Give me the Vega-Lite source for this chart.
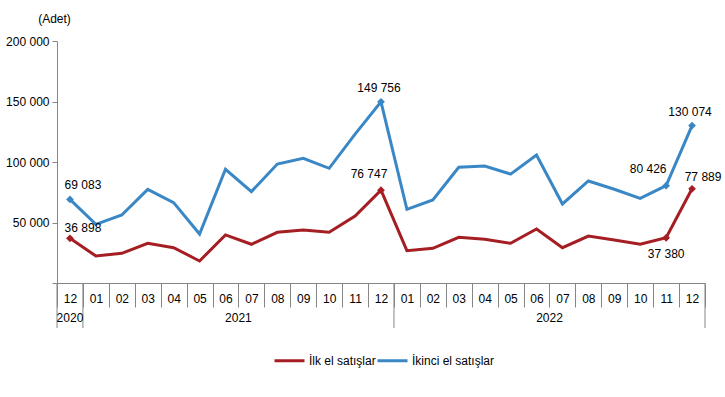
{
  "$schema": "https://vega.github.io/schema/vega-lite/v6.json",
  "autosize": {"type": "none"},
  "padding": {"left": 57, "top": 41, "right": 20, "bottom": 114},
  "width": 648,
  "height": 242,
  "config": {
    "font": "Liberation Sans",
    "view": {"stroke": null},
    "locale": {"number": {"decimal": ",", "thousands": " ", "grouping": [3], "currency": ["", ""]}},
    "text": {"font": "Liberation Sans", "fontSize": 12, "color": "#000000"}
  },
  "datasets": {
    "satis": [
      {"ay": "2020-12", "İlk el satışlar": 36898, "İkinci el satışlar": 69083},
      {"ay": "2021-01", "İlk el satışlar": 22300, "İkinci el satışlar": 48500},
      {"ay": "2021-02", "İlk el satışlar": 24500, "İkinci el satışlar": 56200},
      {"ay": "2021-03", "İlk el satışlar": 32800, "İkinci el satışlar": 77400},
      {"ay": "2021-04", "İlk el satışlar": 29200, "İkinci el satışlar": 66400},
      {"ay": "2021-05", "İlk el satışlar": 18200, "İkinci el satışlar": 40500},
      {"ay": "2021-06", "İlk el satışlar": 39700, "İkinci el satışlar": 94000},
      {"ay": "2021-07", "İlk el satışlar": 32000, "İkinci el satışlar": 75500},
      {"ay": "2021-08", "İlk el satışlar": 41900, "İkinci el satışlar": 98300},
      {"ay": "2021-09", "İlk el satışlar": 43800, "İkinci el satışlar": 103000},
      {"ay": "2021-10", "İlk el satışlar": 41900, "İkinci el satışlar": 94800},
      {"ay": "2021-11", "İlk el satışlar": 55400, "İkinci el satışlar": 123000},
      {"ay": "2021-12", "İlk el satışlar": 76747, "İkinci el satışlar": 149756},
      {"ay": "2022-01", "İlk el satışlar": 26700, "İkinci el satışlar": 60900},
      {"ay": "2022-02", "İlk el satışlar": 28700, "İkinci el satışlar": 68600},
      {"ay": "2022-03", "İlk el satışlar": 37800, "İkinci el satışlar": 95600},
      {"ay": "2022-04", "İlk el satışlar": 36100, "İkinci el satışlar": 96700},
      {"ay": "2022-05", "İlk el satışlar": 32800, "İkinci el satışlar": 90000},
      {"ay": "2022-06", "İlk el satışlar": 44600, "İkinci el satışlar": 105800},
      {"ay": "2022-07", "İlk el satışlar": 29200, "İkinci el satışlar": 65300},
      {"ay": "2022-08", "İlk el satışlar": 38800, "İkinci el satışlar": 84300},
      {"ay": "2022-09", "İlk el satışlar": 35500, "İkinci el satışlar": 77500},
      {"ay": "2022-10", "İlk el satışlar": 32000, "İkinci el satışlar": 70000},
      {"ay": "2022-11", "İlk el satışlar": 37380, "İkinci el satışlar": 80426},
      {"ay": "2022-12", "İlk el satışlar": 77889, "İkinci el satışlar": 130074}
    ],
    "yilSinir": [
      {"ay": "2020-12", "ust": 0, "alt": -37200},
      {"ay": "2021-01", "ust": 0, "alt": -37200},
      {"ay": "2022-01", "ust": 0, "alt": -37200}
    ],
    "sonSinir": [
      {"ay": "2022-12", "ust": 0, "alt": -37200}
    ],
    "yil2020": [
      {"ay": "2020-12", "yil": "2020", "konum": 0}
    ],
    "yillar": [
      {"ay": "2021-06", "yil": "2021", "konum": 0},
      {"ay": "2022-06", "yil": "2022", "konum": 0}
    ]
  },
  "layer": [
    {
      "data": {"name": "satis"},
      "transform": [{"fold": ["İlk el satışlar", "İkinci el satışlar"], "as": ["seri", "deger"]}],
      "encoding": {
        "x": {
          "field": "ay", "type": "ordinal", "bandPosition": 0.5,
          "scale": {"type": "band", "paddingInner": 0, "paddingOuter": 0},
          "axis": {
            "title": null, "grid": false, "labelAngle": 0,
            "tickBand": "extent", "tickSize": 24, "tickColor": "#868686", "domainColor": "#868686",
            "labelPadding": -9, "labelBaseline": "middle", "labelFontSize": 12, "labelColor": "#000000",
            "labelExpr": "substring(datum.label, 5, 7)"
          }
        },
        "y": {
          "field": "deger", "type": "quantitative",
          "scale": {"domain": [0, 200000], "nice": false},
          "axis": {
            "title": "(Adet)", "titleAngle": 0, "titleX": -3, "titleY": -23, "titleAlign": "center",
            "titleBaseline": "middle", "titleFontWeight": "normal", "titleFontSize": 12, "titleColor": "#000000",
            "values": [0, 50000, 100000, 150000, 200000], "grid": false,
            "tickSize": 5, "tickColor": "#868686", "domainColor": "#868686",
            "labelPadding": 3, "labelFontSize": 12, "labelColor": "#000000",
            "labelExpr": "datum.value == 0 ? '' : datum.label"
          }
        }
      },
      "layer": [
        {
          "mark": {"type": "line", "strokeWidth": 3},
          "encoding": {
            "color": {
              "field": "seri", "type": "nominal",
              "scale": {"domain": ["İlk el satışlar", "İkinci el satışlar"], "range": ["#A51E23", "#3A87C5"]},
              "legend": {
                "title": null, "orient": "none", "direction": "horizontal", "legendX": 216, "legendY": 303,
                "symbolType": "stroke", "symbolSize": 900, "symbolStrokeWidth": 3,
                "labelFontSize": 12, "labelColor": "#000000", "labelOffset": 3, "columnPadding": -5
              }
            }
          }
        },
        {
          "transform": [{"filter": "datum.ay == '2020-12' || datum.ay == '2021-12' || datum.ay == '2022-11' || datum.ay == '2022-12'"}],
          "mark": {"type": "point", "shape": "diamond", "filled": true, "size": 60, "opacity": 1},
          "encoding": {"color": {"field": "seri", "type": "nominal"}}
        },
        {
          "transform": [{"filter": "datum.ay == '2020-12' && datum.seri == 'İkinci el satışlar'"}],
          "mark": {"type": "text", "dx": 13, "dy": -14},
          "encoding": {"text": {"field": "deger", "type": "quantitative", "format": ","}}
        },
        {
          "transform": [{"filter": "datum.ay == '2020-12' && datum.seri == 'İlk el satışlar'"}],
          "mark": {"type": "text", "dx": 13, "dy": -10},
          "encoding": {"text": {"field": "deger", "type": "quantitative", "format": ","}}
        },
        {
          "transform": [{"filter": "(datum.ay == '2021-12' || datum.ay == '2022-12') && datum.seri == 'İkinci el satışlar'"}],
          "mark": {"type": "text", "dx": -2, "dy": -14},
          "encoding": {"text": {"field": "deger", "type": "quantitative", "format": ","}}
        },
        {
          "transform": [{"filter": "datum.ay == '2021-12' && datum.seri == 'İlk el satışlar'"}],
          "mark": {"type": "text", "dx": -12, "dy": -16},
          "encoding": {"text": {"field": "deger", "type": "quantitative", "format": ","}}
        },
        {
          "transform": [{"filter": "datum.ay == '2022-11' && datum.seri == 'İkinci el satışlar'"}],
          "mark": {"type": "text", "dx": -18, "dy": -17},
          "encoding": {"text": {"field": "deger", "type": "quantitative", "format": ","}}
        },
        {
          "transform": [{"filter": "datum.ay == '2022-12' && datum.seri == 'İlk el satışlar'"}],
          "mark": {"type": "text", "dx": 11, "dy": -12},
          "encoding": {"text": {"field": "deger", "type": "quantitative", "format": ","}}
        },
        {
          "transform": [{"filter": "datum.ay == '2022-11' && datum.seri == 'İlk el satışlar'"}],
          "mark": {"type": "text", "dx": 0, "dy": 16},
          "encoding": {"text": {"field": "deger", "type": "quantitative", "format": ","}}
        }
      ]
    },
    {
      "data": {"name": "yilSinir"},
      "mark": {"type": "rule", "color": "#868686", "strokeWidth": 1},
      "encoding": {
        "x": {"field": "ay", "type": "ordinal", "bandPosition": 0},
        "y": {"field": "ust", "type": "quantitative"},
        "y2": {"field": "alt"}
      }
    },
    {
      "data": {"name": "sonSinir"},
      "mark": {"type": "rule", "color": "#868686", "strokeWidth": 1},
      "encoding": {
        "x": {"field": "ay", "type": "ordinal", "bandPosition": 1},
        "y": {"field": "ust", "type": "quantitative"},
        "y2": {"field": "alt"}
      }
    },
    {
      "data": {"name": "yil2020"},
      "mark": {"type": "text", "dy": 35, "baseline": "middle"},
      "encoding": {
        "x": {"field": "ay", "type": "ordinal", "bandPosition": 0.5},
        "y": {"field": "konum", "type": "quantitative"},
        "text": {"field": "yil", "type": "nominal"}
      }
    },
    {
      "data": {"name": "yillar"},
      "mark": {"type": "text", "dy": 35, "baseline": "middle"},
      "encoding": {
        "x": {"field": "ay", "type": "ordinal", "bandPosition": 1},
        "y": {"field": "konum", "type": "quantitative"},
        "text": {"field": "yil", "type": "nominal"}
      }
    }
  ]
}
